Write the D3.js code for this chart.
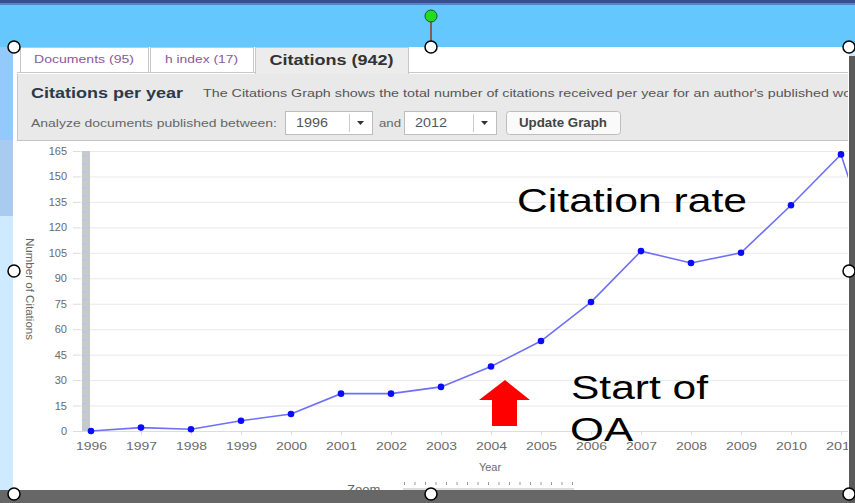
<!DOCTYPE html>
<html>
<head>
<meta charset="utf-8">
<script src="https://cdn.jsdelivr.net/npm/d3@7"></script>
<style>
  body { margin: 0; background: #fff; }
  svg { display: block; font-family: "Liberation Sans", Arial, sans-serif; }
</style>
</head>
<body>
<div id="chart"></div>
<script>
const years = [1996, 1997, 1998, 1999, 2000, 2001, 2002, 2003, 2004, 2005, 2006, 2007, 2008, 2009, 2010, 2011, 2012];
const citations = [0, 2, 1, 6, 10, 22, 22, 26, 38, 53, 76, 106, 99, 105, 133, 163, 72];
const yTicks = [0, 15, 30, 45, 60, 75, 90, 105, 120, 135, 150, 165];
const xTicks = [1996, 1997, 1998, 1999, 2000, 2001, 2002, 2003, 2004, 2005, 2006, 2007, 2008, 2009, 2010, 2011];
const tabs = ["Documents (95)", "h index (17)", "Citations (942)"];

const W = 855, H = 503;
const svg = d3.select("#chart").append("svg")
  .attr("width", W).attr("height", H);

const defs = svg.append("defs");
defs.append("clipPath").attr("id", "plotclip")
  .append("rect").attr("x", 17).attr("y", 141).attr("width", 831).attr("height", 349);
defs.append("clipPath").attr("id", "panelclip")
  .append("rect").attr("x", 17).attr("y", 47).attr("width", 831).attr("height", 443);
const pat = defs.append("pattern").attr("id", "dash")
  .attr("width", 8).attr("height", 8).attr("patternUnits", "userSpaceOnUse");
pat.append("rect").attr("width", 8).attr("height", 8).attr("fill", "#c9c9c9");
pat.append("rect").attr("x", 1).attr("y", 3).attr("width", 6).attr("height", 1.5).attr("fill", "#a6cdef");

// background window bits
svg.append("rect").attr("width", W).attr("height", H).attr("fill", "#cdeaff");
svg.append("rect").attr("width", W).attr("height", 47).attr("fill", "#64c8fe");
svg.append("rect").attr("width", W).attr("height", 3).attr("fill", "#34508e");
svg.append("rect").attr("y", 3).attr("width", W).attr("height", 2).attr("fill", "#4f86c8");
svg.append("rect").attr("x", 0).attr("y", 47).attr("width", 13).attr("height", 93).attr("fill", "#93c9fb");
svg.append("rect").attr("x", 0).attr("y", 140).attr("width", 13).attr("height", 76).attr("fill", "#a9cbef");
svg.append("rect").attr("x", 13).attr("y", 47).attr("width", 836).attr("height", 446).attr("fill", "#fff");

// tabs
const panel = svg.append("g").attr("clip-path", "url(#panelclip)");
const tabX = [20, 150, 255], tabW = [128, 103, 153];
panel.append("line").attr("x1", 17).attr("x2", 848).attr("y1", 72.5).attr("y2", 72.5).attr("stroke", "#c8c8c8");
tabs.forEach((t, i) => {
  const active = i === 2;
  panel.append("rect")
    .attr("x", tabX[i] + 0.5).attr("y", 47.5)
    .attr("width", tabW[i]).attr("height", active ? 27 : 25)
    .attr("fill", active ? "#ececec" : "#fff")
    .attr("stroke", "#c8c8c8");
  panel.append("text")
    .attr("x", tabX[i] + tabW[i] / 2).attr("y", active ? 65 : 63)
    .attr("text-anchor", "middle")
    .attr("font-size", active ? 14 : 11)
    .attr("font-weight", active ? "bold" : "normal")
    .attr("fill", active ? "#333" : "#8a5a9a")
    .attr("textLength", active ? 124 : (i === 0 ? 100 : 73))
    .attr("lengthAdjust", "spacingAndGlyphs")
    .text(t);
});

// grey header
panel.append("rect").attr("x", 17).attr("y", 74).attr("width", 832).attr("height", 66).attr("fill", "#e9e9e9");
panel.append("line").attr("x1", 17).attr("x2", 848).attr("y1", 140.5).attr("y2", 140.5).attr("stroke", "#c4c4c4");
panel.append("rect").attr("x", 17).attr("y", 74).attr("width", 1).attr("height", 66).attr("fill", "#c8c8c8");

panel.append("text").attr("x", 31).attr("y", 98)
  .attr("font-size", 14).attr("font-weight", "bold").attr("fill", "#2b3a4a")
  .attr("textLength", 152).attr("lengthAdjust", "spacingAndGlyphs")
  .text("Citations per year");
panel.append("text").attr("x", 203).attr("y", 97)
  .attr("font-size", 11).attr("fill", "#555")
  .attr("textLength", 660).attr("lengthAdjust", "spacingAndGlyphs")
  .text("The Citations Graph shows the total number of citations received per year for an author's published work");
panel.append("text").attr("x", 31).attr("y", 127)
  .attr("font-size", 11).attr("fill", "#666")
  .attr("textLength", 246).attr("lengthAdjust", "spacingAndGlyphs")
  .text("Analyze documents published between:");

function selectBox(x, w, label) {
  panel.append("rect").attr("x", x + 0.5).attr("y", 111.5).attr("width", w).attr("height", 23)
    .attr("fill", "#fff").attr("stroke", "#bdbdbd");
  panel.append("line").attr("x1", x + w - 22.5).attr("x2", x + w - 22.5).attr("y1", 114).attr("y2", 132).attr("stroke", "#ccc");
  panel.append("text").attr("x", x + 11).attr("y", 127).attr("font-size", 12).attr("fill", "#555")
    .attr("textLength", 32).attr("lengthAdjust", "spacingAndGlyphs").text(label);
  panel.append("path")
    .attr("d", `M${x + w - 15},121 l7,0 l-3.5,4 z`).attr("fill", "#333");
}
selectBox(285, 87, "1996");
panel.append("text").attr("x", 379).attr("y", 127).attr("font-size", 11).attr("fill", "#666")
  .attr("textLength", 22).attr("lengthAdjust", "spacingAndGlyphs").text("and");
selectBox(404, 92, "2012");
panel.append("rect").attr("x", 506.5).attr("y", 111.5).attr("width", 114).attr("height", 23).attr("rx", 3)
  .attr("fill", "#fafafa").attr("stroke", "#bdbdbd");
panel.append("text").attr("x", 563).attr("y", 127).attr("text-anchor", "middle")
  .attr("font-size", 12).attr("font-weight", "bold").attr("fill", "#444")
  .attr("textLength", 88).attr("lengthAdjust", "spacingAndGlyphs").text("Update Graph");

// chart
const x = d3.scaleLinear().domain([1996, 2011]).range([91, 841]);
const y = d3.scaleLinear().domain([0, 165]).range([431, 151]);

const plot = svg.append("g").attr("clip-path", "url(#plotclip)");

// y grid + labels
const yAxis = plot.append("g").attr("transform", "translate(80,0)")
  .call(d3.axisLeft(y).tickValues(yTicks).tickSize(7).tickPadding(6));
yAxis.select(".domain").remove();
yAxis.selectAll(".tick line").attr("stroke", "#ddd");
yAxis.selectAll(".tick text").attr("fill", "#6a6a6a").attr("font-size", 11)
  .attr("font-family", "'Liberation Sans', Arial, sans-serif");
yAxis.selectAll(".tick").append("line")
  .attr("x1", 0).attr("x2", 768).attr("stroke", "#e9e9e9");

// dashed zoom strip
plot.append("rect").attr("x", 82).attr("y", y(165)).attr("width", 8).attr("height", y(0) - y(165))
  .attr("fill", "url(#dash)");

// x axis
const xAxis = plot.append("g").attr("transform", `translate(0,${y(0)})`)
  .call(d3.axisBottom(x).tickValues(xTicks).tickFormat(d3.format("d")).tickSize(4).tickPadding(7));
xAxis.select(".domain").attr("d", "M75,0.5H848").attr("stroke", "#ddd");
xAxis.selectAll(".tick line").attr("stroke", "#ddd");
xAxis.selectAll(".tick text").attr("fill", "#6a6a6a").attr("font-size", 11)
  .attr("font-family", "'Liberation Sans', Arial, sans-serif")
  .attr("textLength", 31).attr("lengthAdjust", "spacingAndGlyphs");

plot.append("text").attr("x", 490).attr("y", 471).attr("text-anchor", "middle")
  .attr("font-size", 11).attr("fill", "#6a6a6a").text("Year");

plot.append("text")
  .attr("transform", "translate(26,289) rotate(90)")
  .attr("text-anchor", "middle").attr("font-size", 10).attr("fill", "#666")
  .attr("textLength", 102).attr("lengthAdjust", "spacingAndGlyphs")
  .text("Number of Citations");

// series
const pts = years.map((yr, i) => ({ yr, v: citations[i] }));
const line = d3.line().x(d => x(d.yr)).y(d => y(d.v));
plot.append("path").datum(pts)
  .attr("fill", "none").attr("stroke", "#6f6ff7").attr("stroke-width", 1.6)
  .attr("d", line);
plot.selectAll(".pt").data(pts).enter().append("circle")
  .attr("class", "pt")
  .attr("cx", d => x(d.yr)).attr("cy", d => y(d.v)).attr("r", 3.3)
  .attr("fill", "#0a0aff");

// zoom slider (cut by bottom bar)
plot.append("text").attr("x", 347).attr("y", 494).attr("font-size", 13).attr("fill", "#666")
  .text("Zoom");
plot.selectAll(".sl").data(d3.range(17)).enter().append("rect")
  .attr("class", "sl")
  .attr("x", (d) => 404 + d * 10.5).attr("y", 482).attr("width", 1).attr("height", 3).attr("fill", "#999");
plot.append("rect").attr("x", 403).attr("y", 488).attr("width", 171).attr("height", 3).attr("fill", "#ddd");

// annotations
const ann = svg.append("g").attr("fill", "#000");
ann.append("text").attr("x", 517).attr("y", 212).attr("font-size", 33)
  .attr("textLength", 230).attr("lengthAdjust", "spacingAndGlyphs").text("Citation rate");
ann.append("text").attr("x", 571).attr("y", 399).attr("font-size", 33)
  .attr("textLength", 137).attr("lengthAdjust", "spacingAndGlyphs").text("Start of");
ann.append("text").attr("x", 570).attr("y", 441).attr("font-size", 33)
  .attr("textLength", 63).attr("lengthAdjust", "spacingAndGlyphs").text("OA");
svg.append("path")
  .attr("d", "M505,380 L530,400 L517,400 L517,426 L492,426 L492,400 L479,400 Z")
  .attr("fill", "#ff0000");

// frame edges
svg.append("rect").attr("x", 0).attr("y", 490).attr("width", W).attr("height", 13).attr("fill", "#676767");
svg.append("rect").attr("x", 849).attr("y", 56).attr("width", 6).attr("height", 447).attr("fill", "#5a5a5a");

// selection handles
svg.append("line").attr("x1", 431).attr("x2", 431).attr("y1", 21).attr("y2", 42)
  .attr("stroke", "#8b3a1a").attr("stroke-width", 1.5);
svg.append("circle").attr("cx", 431).attr("cy", 16).attr("r", 6)
  .attr("fill", "#22dd22").attr("stroke", "#1a5a1a").attr("stroke-width", 1);
const handles = [[14, 47], [431, 47], [849, 47], [14, 271], [849, 271], [14, 494], [431, 494], [849, 494]];
svg.selectAll(".hd").data(handles).enter().append("circle")
  .attr("class", "hd")
  .attr("cx", d => d[0]).attr("cy", d => d[1]).attr("r", 6)
  .attr("fill", "#fff").attr("stroke", "#000").attr("stroke-width", 1.5);
</script>
</body>
</html>
